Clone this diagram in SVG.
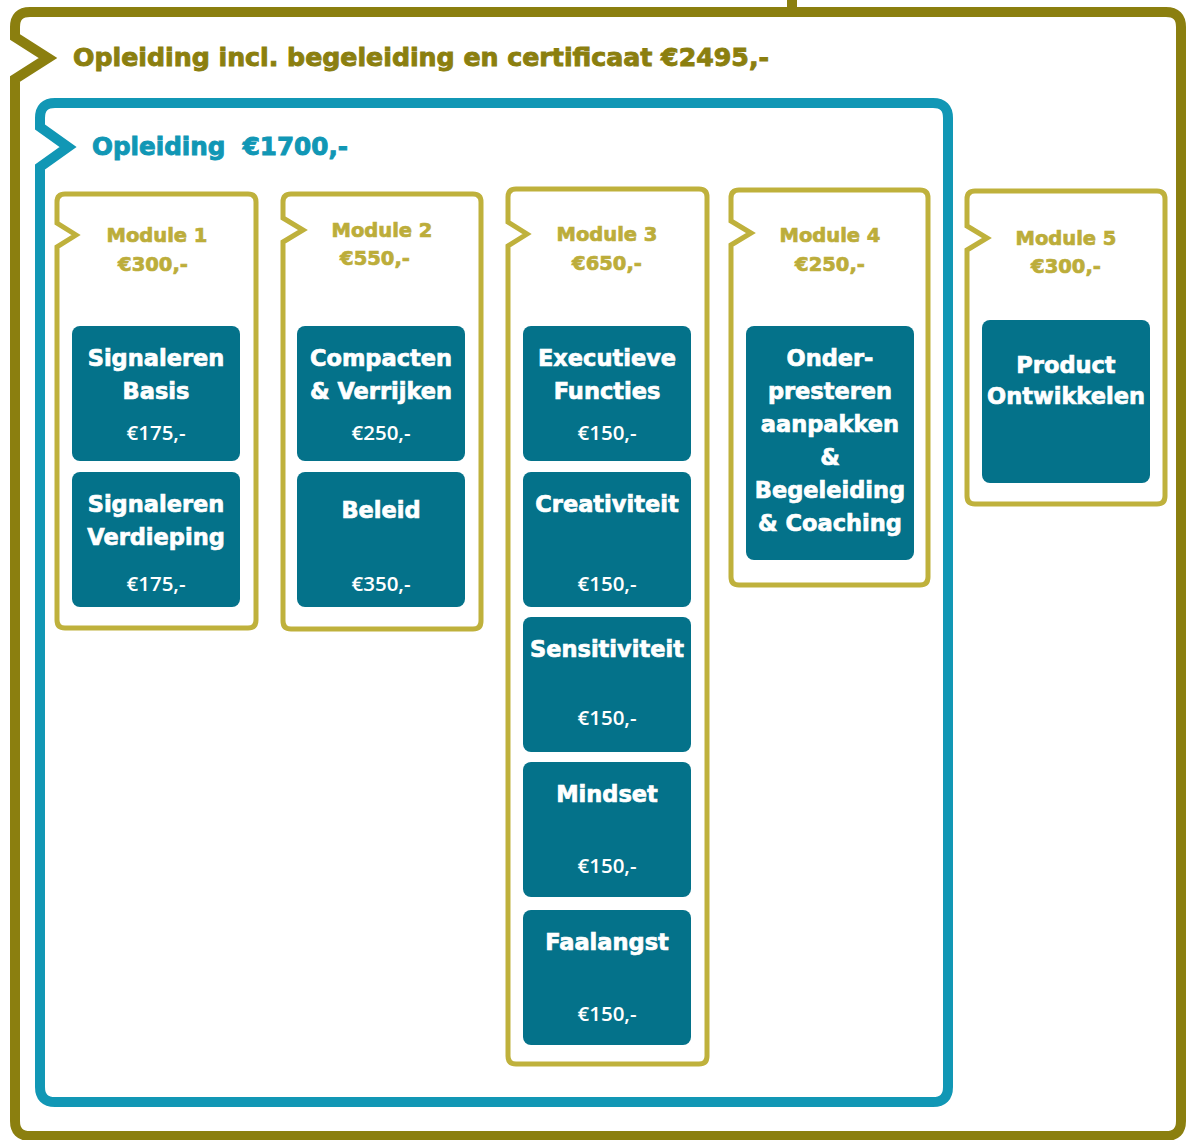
<svg xmlns="http://www.w3.org/2000/svg" width="1188" height="1140" viewBox="0 0 1188 1140">
<style>
.outer{fill:none;stroke:#8b7f0f;stroke-width:10;stroke-linejoin:miter}
.inner{fill:none;stroke:#1197b5;stroke-width:10;stroke-linejoin:miter}
.mod{fill:none;stroke:#bfb13c;stroke-width:5;stroke-linejoin:miter}
.box{fill:#04728a}
.t1{font-family:"DejaVu Sans","Liberation Sans",sans-serif;font-weight:bold;font-size:24.5px;fill:#8b7f0f;stroke:#8b7f0f;stroke-width:0.9}
.t2{font-family:"DejaVu Sans","Liberation Sans",sans-serif;font-weight:bold;font-size:24.5px;fill:#1197b5;stroke:#1197b5;stroke-width:0.9}
.mt{font-family:"DejaVu Sans","Liberation Sans",sans-serif;font-weight:bold;font-size:19.5px;fill:#bcad3a;stroke:#bcad3a;stroke-width:0.7;text-anchor:middle}
.bt{font-family:"DejaVu Sans","Liberation Sans",sans-serif;font-weight:bold;font-size:22.5px;fill:#ffffff;stroke:#ffffff;stroke-width:0.7;text-anchor:middle}
.pr{font-family:"Open Sans","Liberation Sans",sans-serif;font-weight:600;font-size:20.5px;fill:#ffffff;text-anchor:middle}
</style>
<rect width="1188" height="1140" fill="#ffffff"/>
<g id="frame-total">
<line x1="792" y1="0" x2="792" y2="12" stroke="#8b7f0f" stroke-width="10"/>
<path class="outer" d="M15,37 L15,27 Q15,12 30,12 L1166,12 Q1181,12 1181,27 L1181,1121 Q1181,1136 1166,1136 L30,1136 Q15,1136 15,1121 L15,79 L48,58 Z"/>
<text class="t1" x="73" y="66" textLength="696" lengthAdjust="spacingAndGlyphs">Opleiding incl. begeleiding en certificaat €2495,-</text>
</g>
<g id="frame-opleiding">
<path class="inner" d="M40,127 L40,118 Q40,103 55,103 L933,103 Q948,103 948,118 L948,1087 Q948,1102 933,1102 L55,1102 Q40,1102 40,1087 L40,167 L68,147 Z"/>
<text class="t2" x="92" y="155" xml:space="preserve" textLength="256" lengthAdjust="spacingAndGlyphs">Opleiding  €1700,-</text>
</g>
<g id="module1">
<path class="mod" d="M57,223 L57,202 Q57,194 65,194 L248,194 Q256,194 256,202 L256,620 Q256,628 248,628 L65,628 Q57,628 57,620 L57,247 L76,235 Z"/>
<text class="mt" x="157" y="242">Module 1</text>
<text class="mt" x="153" y="271">€300,-</text>
<g id="m1-basis"><rect class="box" x="72" y="326" width="168" height="135" rx="8"/>
<text class="bt" x="156" y="366">Signaleren</text><text class="bt" x="156" y="399">Basis</text><text class="pr" x="156" y="440">€175,-</text></g>
<g id="m1-verdieping"><rect class="box" x="72" y="472" width="168" height="135" rx="8"/>
<text class="bt" x="156" y="512">Signaleren</text><text class="bt" x="156" y="545">Verdieping</text><text class="pr" x="156" y="591">€175,-</text></g>
</g>
<g id="module2">
<path class="mod" d="M283,218 L283,202 Q283,194 291,194 L473,194 Q481,194 481,202 L481,621 Q481,629 473,629 L291,629 Q283,629 283,621 L283,242 L303,230 Z"/>
<text class="mt" x="382" y="237">Module 2</text>
<text class="mt" x="375" y="265">€550,-</text>
<g id="m2-compacten"><rect class="box" x="297" y="326" width="168" height="135" rx="8"/>
<text class="bt" x="381" y="366">Compacten</text><text class="bt" x="381" y="399">&amp; Verrijken</text><text class="pr" x="381" y="440">€250,-</text></g>
<g id="m2-beleid"><rect class="box" x="297" y="472" width="168" height="135" rx="8"/>
<text class="bt" x="381" y="518">Beleid</text><text class="pr" x="381" y="591">€350,-</text></g>
</g>
<g id="module3">
<path class="mod" d="M508,222 L508,197 Q508,189 516,189 L699,189 Q707,189 707,197 L707,1056 Q707,1064 699,1064 L516,1064 Q508,1064 508,1056 L508,246 L527,234 Z"/>
<text class="mt" x="607" y="241">Module 3</text>
<text class="mt" x="607" y="270">€650,-</text>
<g id="m3-executieve"><rect class="box" x="523" y="326" width="168" height="135" rx="8"/>
<text class="bt" x="607" y="366">Executieve</text><text class="bt" x="607" y="399">Functies</text><text class="pr" x="607" y="440">€150,-</text></g>
<g id="m3-creativiteit"><rect class="box" x="523" y="472" width="168" height="135" rx="8"/>
<text class="bt" x="607" y="512">Creativiteit</text><text class="pr" x="607" y="591">€150,-</text></g>
<g id="m3-sensitiviteit"><rect class="box" x="523" y="617" width="168" height="135" rx="8"/>
<text class="bt" x="607" y="657">Sensitiviteit</text><text class="pr" x="607" y="725">€150,-</text></g>
<g id="m3-mindset"><rect class="box" x="523" y="762" width="168" height="135" rx="8"/>
<text class="bt" x="607" y="802">Mindset</text><text class="pr" x="607" y="873">€150,-</text></g>
<g id="m3-faalangst"><rect class="box" x="523" y="910" width="168" height="135" rx="8"/>
<text class="bt" x="607" y="950">Faalangst</text><text class="pr" x="607" y="1021">€150,-</text></g>
</g>
<g id="module4">
<path class="mod" d="M731,221 L731,198 Q731,190 739,190 L920,190 Q928,190 928,198 L928,577 Q928,585 920,585 L739,585 Q731,585 731,577 L731,245 L751,233 Z"/>
<text class="mt" x="830" y="242">Module 4</text>
<text class="mt" x="830" y="271">€250,-</text>
<g id="m4-onderpresteren"><rect class="box" x="746" y="326" width="168" height="234" rx="8"/>
<text class="bt" x="830" y="366">Onder-</text><text class="bt" x="830" y="399">presteren</text><text class="bt" x="830" y="432">aanpakken</text><text class="bt" x="830" y="465">&amp;</text><text class="bt" x="830" y="498">Begeleiding</text><text class="bt" x="830" y="531">&amp; Coaching</text></g>
</g>
<g id="module5">
<path class="mod" d="M967,226 L967,199 Q967,191 975,191 L1157,191 Q1165,191 1165,199 L1165,496 Q1165,504 1157,504 L975,504 Q967,504 967,496 L967,250 L987,238 Z"/>
<text class="mt" x="1066" y="245">Module 5</text>
<text class="mt" x="1066" y="273">€300,-</text>
<g id="m5-product"><rect class="box" x="982" y="320" width="168" height="163" rx="8"/>
<text class="bt" x="1066" y="373">Product</text><text class="bt" x="1066" y="404">Ontwikkelen</text></g>
</g>
<g id="connectors"></g>
</svg>
